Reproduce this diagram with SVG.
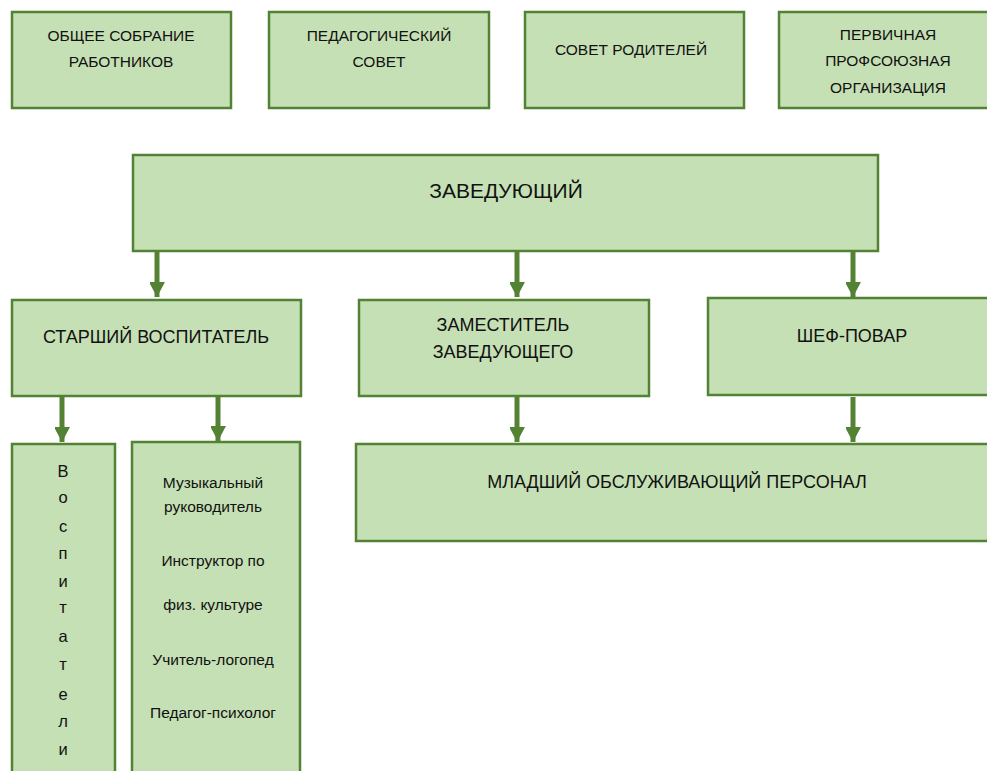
<svg xmlns="http://www.w3.org/2000/svg" width="987" height="771" viewBox="0 0 987 771">
<style>
.box{fill:#C5E0B4;stroke:#548235;stroke-width:2.5}
text{font-family:"Liberation Sans",Arial,sans-serif;fill:#111;text-anchor:middle}
.t1{font-size:15.5px}
.t2{font-size:18px}
.t3{font-size:21px}
.t4{font-size:15.5px}
.t5{font-size:16.5px}
.conn line{stroke:#548235;stroke-width:5}
</style>
<defs>
<marker id="ah" markerUnits="userSpaceOnUse" markerWidth="16" markerHeight="15" refX="15" refY="8" orient="auto">
<path d="M0,0 L15,8 L0,16 Z" fill="#548235"/>
</marker>
</defs>
<rect width="987" height="771" fill="#fff"/>
<g id="n-sobranie"><rect class="box" x="12" y="12" width="219" height="96"/>
<text class="t1" x="121" y="41">ОБЩЕЕ СОБРАНИЕ</text><text class="t1" x="121" y="67">РАБОТНИКОВ</text></g>
<g id="n-pedsovet"><rect class="box" x="269" y="12" width="220" height="96"/>
<text class="t1" x="379" y="41">ПЕДАГОГИЧЕСКИЙ</text><text class="t1" x="379" y="67">СОВЕТ</text></g>
<g id="n-roditeli"><rect class="box" x="525" y="12" width="219" height="96"/>
<text class="t1" x="631" y="55">СОВЕТ РОДИТЕЛЕЙ</text></g>
<g id="n-profsoyuz"><rect class="box" x="779" y="12" width="230" height="96"/>
<text class="t1" x="888" y="40">ПЕРВИЧНАЯ</text><text class="t1" x="888" y="66">ПРОФСОЮЗНАЯ</text><text class="t1" x="888" y="93">ОРГАНИЗАЦИЯ</text></g>
<g id="n-zaveduyushchiy"><rect class="box" x="133" y="155" width="745" height="96"/>
<text class="t3" x="506" y="198">ЗАВЕДУЮЩИЙ</text></g>
<g id="n-starshiy"><rect class="box" x="12" y="300" width="289" height="96"/>
<text class="t2" x="156" y="343">СТАРШИЙ ВОСПИТАТЕЛЬ</text></g>
<g id="n-zamestitel"><rect class="box" x="359" y="300" width="290" height="96"/>
<text class="t2" x="503" y="331">ЗАМЕСТИТЕЛЬ</text><text class="t2" x="503" y="358">ЗАВЕДУЮЩЕГО</text></g>
<g id="n-shef"><rect class="box" x="708" y="298" width="300" height="97"/>
<text class="t2" x="852" y="342">ШЕФ-ПОВАР</text></g>
<g id="n-mladshiy"><rect class="box" x="356" y="444" width="650" height="97"/>
<text class="t2" x="677" y="488">МЛАДШИЙ ОБСЛУЖИВАЮЩИЙ ПЕРСОНАЛ</text></g>
<g id="n-vospitateli"><rect class="box" x="12" y="444" width="103" height="340"/>
<text class="t5" x="63" y="477">В</text><text class="t5" x="63" y="503">о</text><text class="t5" x="63" y="532">с</text><text class="t5" x="63" y="559">п</text><text class="t5" x="63" y="587">и</text><text class="t5" x="63" y="613">т</text><text class="t5" x="63" y="642">а</text><text class="t5" x="63" y="670">т</text><text class="t5" x="63" y="700">е</text><text class="t5" x="63" y="727">л</text><text class="t5" x="63" y="755">и</text></g>
<g id="n-specialisty"><rect class="box" x="132" y="442" width="168" height="342"/>
<text class="t4" x="213" y="488">Музыкальный</text><text class="t4" x="213" y="512">руководитель</text><text class="t4" x="213" y="566">Инструктор по</text><text class="t4" x="213" y="610">физ. культуре</text><text class="t4" x="213" y="665">Учитель-логопед</text><text class="t4" x="213" y="718">Педагог-психолог</text></g>
<g id="connectors" class="conn">
<line x1="157" y1="252" x2="157" y2="297" marker-end="url(#ah)"/>
<line x1="517" y1="252" x2="517" y2="297" marker-end="url(#ah)"/>
<line x1="853" y1="252" x2="853" y2="297" marker-end="url(#ah)"/>
<line x1="62" y1="397" x2="62" y2="442" marker-end="url(#ah)"/>
<line x1="218" y1="397" x2="218" y2="441" marker-end="url(#ah)"/>
<line x1="517" y1="397" x2="517" y2="442" marker-end="url(#ah)"/>
<line x1="853" y1="397" x2="853" y2="442" marker-end="url(#ah)"/>
</g>
</svg>
